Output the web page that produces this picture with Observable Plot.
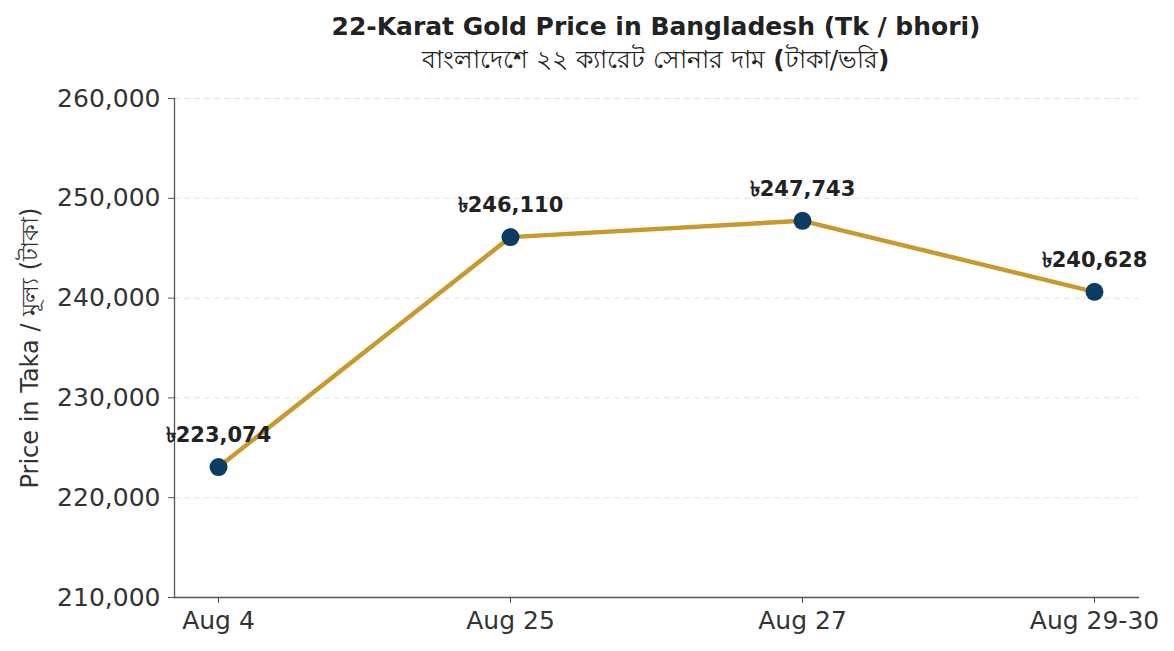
<!DOCTYPE html>
<html>
<head>
<meta charset="utf-8">
<script src="https://cdn.jsdelivr.net/npm/d3@7"></script>
<script src="https://cdn.jsdelivr.net/npm/@observablehq/plot@0.6"></script>
<style>
  body { margin: 0; background: #fff; font-family: "DejaVu Sans", sans-serif; }
  #header { width: 1174px; height: 80px; position: relative; }
  #title { position: absolute; left: 174px; width: 964px; top: 12px; text-align: center; font-weight: bold; font-size: 25px; line-height: 30px; color: #222; }
  #subtitle { position: absolute; left: 174px; width: 964px; top: 44px; text-align: center; font-size: 25px; line-height: 32px; color: #222; }
</style>
</head>
<body>
<div id="header">
  <div id="title">22-Karat Gold Price in Bangladesh (Tk / bhori)</div>
  <div id="subtitle">বাংলাদেশে ২২ ক্যারেট সোনার দাম <b>(</b>টাকা/ভরি<b>)</b></div>
</div>
<div id="chart"></div>
<script>
const dates = ["Aug 4", "Aug 25", "Aug 27", "Aug 29-30"];
const prices = [223074, 246110, 247743, 240628];
const yTicks = [210000, 220000, 230000, 240000, 250000, 260000];
const yLabel = "Price in Taka / মূল্য (টাকা)";

const data = dates.map((d, i) => ({date: d, price: prices[i]}));
const fmt = d3.format(",");

const chart = Plot.plot({
  width: 1174,
  height: 571,
  marginTop: 18,
  marginBottom: 54,
  marginLeft: 174,
  marginRight: 36,
  style: {fontFamily: "DejaVu Sans, sans-serif", color: "#333", background: "#fff"},
  x: {type: "point", domain: dates, padding: 0.15},
  y: {domain: [210000, 260000]},
  marks: [
    Plot.gridY(yTicks, {stroke: "#ccc", strokeOpacity: 0.6, strokeDasharray: "6,4", strokeWidth: 1}),
    Plot.axisY(yTicks, {tickFormat: fmt, fontSize: 25, tickSize: 6, tickPadding: 8, stroke: "#555", fill: "#333", label: null}),
    Plot.axisX({fontSize: 25, tickSize: 6, tickPadding: 8, stroke: "#555", fill: "#333", label: null}),
    Plot.frame({anchor: "left", stroke: "#555", strokeWidth: 1.3}),
    Plot.frame({anchor: "bottom", stroke: "#555", strokeWidth: 1.3}),
    Plot.text([yLabel], {frameAnchor: "left", textAnchor: "middle", rotate: -90, dx: -144, fontSize: 24, fill: "#333"}),
    Plot.line(data, {x: "date", y: "price", stroke: "#C8992C", strokeWidth: 4.5}),
    Plot.dot(data, {x: "date", y: "price", r: 9, fill: "#0B3C61", stroke: "none"}),
    Plot.text(data, {x: "date", y: "price", text: d => "৳" + fmt(d.price), dy: -32, fontSize: 21, fontWeight: "bold", fill: "#222"})
  ]
});
document.getElementById("chart").appendChild(chart);
</script>
</body>
</html>
